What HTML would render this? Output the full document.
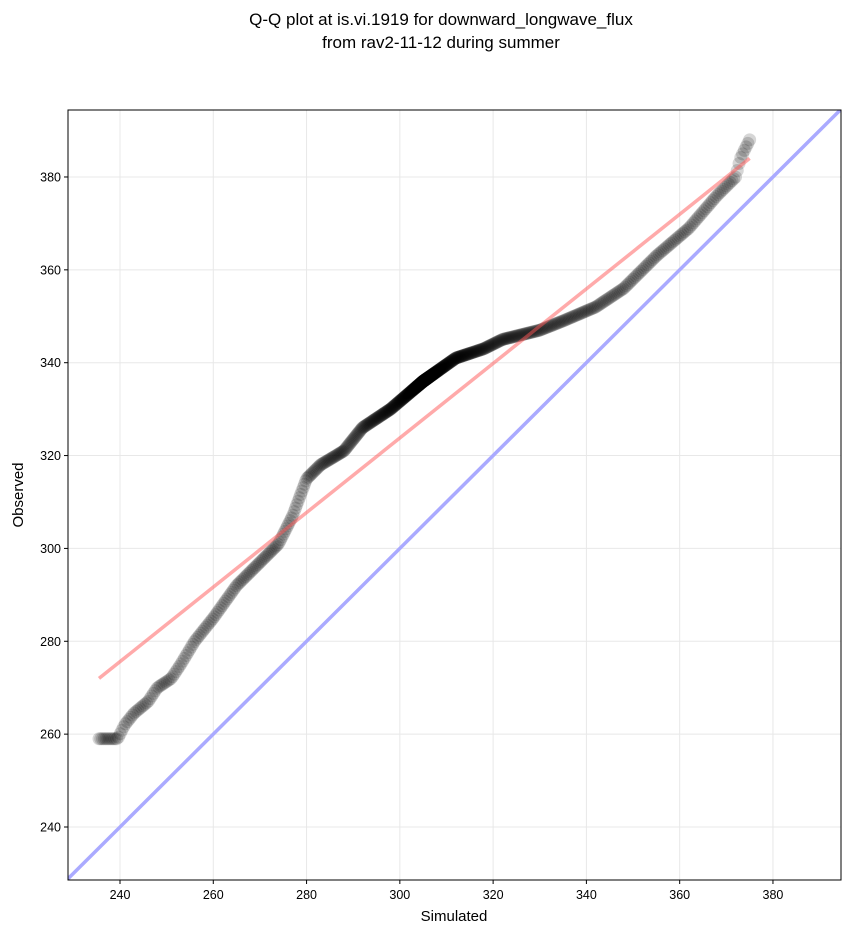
<!DOCTYPE html>
<html><head><meta charset="utf-8"><style>body{margin:0;background:#fff}svg{display:block}text{font-family:"Liberation Sans","DejaVu Sans",sans-serif}</style></head>
<body>
<svg id="s" width="851" height="934" xmlns="http://www.w3.org/2000/svg">
<text x="441" y="25" font-size="17" text-anchor="middle">Q-Q plot at is.vi.1919 for downward_longwave_flux</text>
<text x="441" y="48" font-size="17" text-anchor="middle">from rav2-11-12 during summer</text>
<g id="grid" stroke="#e8e8e8" stroke-width="1"></g>
<g id="ticks" font-size="12.5" fill="#000"></g>
<clipPath id="c"><rect x="68" y="110" width="773" height="770"/></clipPath>
<g clip-path="url(#c)">
<line id="blue" stroke="#aaaaff" stroke-width="3.5"/>
<g id="pts"></g>
<line id="red" stroke="#ff5555" stroke-opacity="0.5" stroke-width="3.5"/>
</g>
<rect x="68" y="110" width="773" height="770" fill="none" stroke="#000" stroke-width="1"/>
<text x="454" y="921" font-size="15" text-anchor="middle">Simulated</text>
<text x="23" y="495" font-size="15" text-anchor="middle" transform="rotate(-90 23 495)">Observed</text>
</svg>
<script>
var NS="http://www.w3.org/2000/svg";
function X(v){return 120+(v-240)*4.664;}
function Y(v){return 827-(v-240)*4.643;}
function el(t,a,p){var e=document.createElementNS(NS,t);for(var k in a)e.setAttribute(k,a[k]);document.getElementById(p).appendChild(e);return e;}
for(var v=240;v<=380;v+=20){
 el("line",{x1:X(v),x2:X(v),y1:110,y2:880},"grid");
 el("line",{x1:68,x2:841,y1:Y(v),y2:Y(v)},"grid");
 el("line",{x1:X(v),x2:X(v),y1:880,y2:884,stroke:"#000"},"ticks");
 el("line",{x1:64,x2:68,y1:Y(v),y2:Y(v),stroke:"#000"},"ticks");
 var t=el("text",{x:X(v),y:899,"text-anchor":"middle"},"ticks");t.textContent=v;
 t=el("text",{x:61,y:Y(v)+4.5,"text-anchor":"end"},"ticks");t.textContent=v;
}
var b=document.getElementById("blue");b.setAttribute("x1",X(228));b.setAttribute("y1",Y(228));b.setAttribute("x2",X(396));b.setAttribute("y2",Y(396));
var r=document.getElementById("red");r.setAttribute("x1",X(235.5));r.setAttribute("y1",Y(272));r.setAttribute("x2",X(375));r.setAttribute("y2",Y(384));
var K=[[235.5,259],[239.5,259],[241,262],[243,264.5],[246,267],[248,270],[251,272],[253,275],[256,280],[260,285],[265,292],[270,297],[274,301],[277,307],[280,315],[283,318],[288,321],[292,326],[298,330],[305,336],[312,341],[318,343],[322,345],[330,347],[335,349],[342,352],[348,356],[355,363],[362,369],[368,376],[372,380],[373,384],[375,388]];
function f(s){for(var i=0;i<K.length-1;i++){if(s<=K[i+1][0]){var a=K[i],c=K[i+1];var t=(s-a[0])/((c[0]-a[0])||1);return a[1]+t*(c[1]-a[1]);}}return K[K.length-1][1];}
var N=700;
for(var i=0;i<N;i++){var u=i/(N-1);var w=u+0.9*Math.sin(2*Math.PI*u)/(2*Math.PI);
 var s=235.5+139.5*w;el("circle",{cx:X(s),cy:Y(f(s)),r:6.5,fill:"#000","fill-opacity":0.16},"pts");}
</script>
</body></html>
